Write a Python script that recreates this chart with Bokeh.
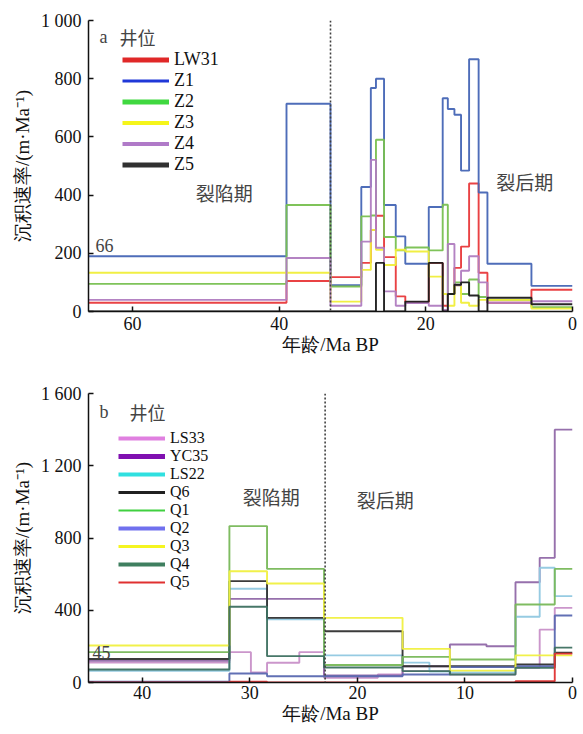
from bokeh.plotting import figure
from bokeh.models import Range1d, FixedTicker, Legend, LegendItem, Label, Span
from bokeh.layouts import column
from bokeh.embed import file_html
from bokeh.resources import INLINE

# ---------------- Panel a data (age in Ma BP, rate in m/Ma) ----------------
edges_a = [66, 39, 33, 28.8, 27.5, 26.8, 25.7, 24.1, 22.8, 19.6, 17.7, 17.0,
           16.1, 15.2, 14.1, 12.8, 11.6, 5.6, 0]
lw31 = [30, 105, 118, 167, 280, 329, 187, 52, 32, 167, 20, 60, 150, 223, 440, 133, 30, 75]
z1 = [190, 714, 90, 428, 768, 800, 366, 258, 164, 359, 733, 696, 676, 484, 867, 409, 164, 88]
z2 = [95, 366, 86, 327, 330, 590, 256, 210, 220, 210, 367, 60, 100, 60, 110, 50, 40, 15]
z3 = [133, 133, 34, 143, 280, 212, 160, 212, 206, 120, 60, 20, 90, 30, 20, 40, 40, 10]
z4 = [40, 184, 20, 240, 521, 219, 69, 20, 29, 20, 5, 232, 90, 140, 190, 100, 30, 35]
z5 = [0, 0, 0, 0, 0, 167, 0, 0, 34, 167, 0, 60, 92, 100, 55, 0, 47, 25]
wells_a = ["LW31", "Z1", "Z2", "Z3", "Z4", "Z5"]
series_a = [lw31, z1, z2, z3, z4, z5]
xticks_a = [60, 40, 20, 0]
yticks_a = [0, 200, 400, 600, 800, 1000]

# ---------------- Panel b data ----------------
edges_b = [45, 31.9, 29.9, 28.4, 25.4, 23.1, 18.1, 15.8, 13.3, 11.4, 8.0, 5.3, 3.05, 1.65, 0]
ls33 = [110, 168, 55, 109, 168, 26, 44, 63, 63, 44, 44, 81, 293, 413]
yc35 = [120, 463, 463, 463, 463, 39, 39, 90, 90, 210, 201, 555, 690, 1400]
ls22 = [65, 519, 519, 350, 350, 150, 150, 110, 60, 55, 55, 364, 635, 478]
q6 = [130, 561, 561, 358, 358, 284, 284, 90, 90, 90, 90, 100, 100, 165]
q1 = [168, 866, 866, 629, 629, 97, 97, 142, 142, 127, 127, 432, 432, 629]
q2 = [5, 50, 50, 35, 35, 35, 35, 44, 44, 85, 85, 90, 90, 371]
q3 = [205, 616, 616, 548, 548, 358, 358, 186, 186, 66, 66, 150, 150, 150]
q4 = [72, 419, 419, 146, 146, 83, 83, 63, 63, 44, 44, 81, 81, 193]
q5 = [0, 5, 5, 0, 0, 0, 0, 0, 0, 0, 0, 7, 7, 160]
wells_b = ["LS33", "YC35", "LS22", "Q6", "Q1", "Q2", "Q3", "Q4", "Q5"]
series_b = [ls33, yc35, ls22, q6, q1, q2, q3, q4, q5]
xticks_b = [40, 30, 20, 10, 0]
yticks_b = [0, 400, 800, 1200, 1600]

# ---------------- styles ----------------
FONT_NUM = "Liberation Serif"
FONT_CJK = "Noto Sans CJK SC"

line_col_a = ["#e8383a", "#4565b5", "#78c050", "#f0ee3a", "#b07cc0", "#1a1a1a"]
leg_col_a = ["#e02828", "#2038d8", "#40d840", "#f5f51a", "#b07ac8", "#303030"]
leg_w_a = [5, 3, 5, 4, 4, 5]

line_col_b = ["#c890c8", "#9068a8", "#90c8e0", "#303030", "#78b858", "#5868b0",
              "#f0f040", "#3d7060", "#e03030"]
leg_col_b = ["#e080e0", "#8010b0", "#30e0e0", "#202020", "#40d040", "#7070ee",
             "#f5f520", "#3f7f5f", "#e03030"]
leg_w_b = [4, 5, 4, 3, 2, 4, 3, 4, 2]


def step_xy(edges, vals):
    xs, ys = [], []
    for i, v in enumerate(vals):
        xs += [edges[i], edges[i + 1]]
        ys += [v, v]
    return xs, ys


def make_panel(edges, series, names, lcols, gcols, gws, xmax, ymax, xticks, yticks,
               overrides, top, frame_h, bottom, split, letter, start_lbl,
               start_lbl_y, start_off, rift_pos, post_pos, leg_loc, row_h, leg_font,
               title_pos, title_gap, x_standoff):
    left, right = 88, 7
    p = figure(width=left + 484 + right, height=top + frame_h + bottom,
               output_backend="svg", toolbar_location=None,
               x_range=Range1d(xmax, 0), y_range=Range1d(0, ymax))
    p.min_border_left = left
    p.min_border_right = right
    p.min_border_top = top
    p.min_border_bottom = bottom
    p.outline_line_color = None
    p.xgrid.visible = False
    p.ygrid.visible = False
    p.background_fill_color = "white"
    p.border_fill_color = "white"

    for s, c in zip(series, lcols):
        xs, ys = step_xy(edges, s)
        p.line(xs, ys, line_color=c, line_width=1.9, line_alpha=0.95)

    p.add_layout(Span(location=split, dimension="height", line_color="#404040",
                      line_width=1.6, line_dash="2 2"))

    items = []
    for n, s, c, w in zip(names, series, gcols, gws):
        # single-point line: invisible in the plot, used only for the legend swatch
        r = p.line([edges[0]], [s[0]], line_color=c, line_width=w)
        items.append(LegendItem(label=n, renderers=[r]))
    leg = Legend(items=items, location=leg_loc, padding=0, margin=0, spacing=0,
                 glyph_width=47, glyph_height=row_h, label_height=row_h,
                 label_standoff=5, border_line_color=None, background_fill_alpha=0,
                 label_text_font=FONT_NUM, label_text_font_size=leg_font,
                 label_text_color="#111111")
    p.add_layout(leg)

    # panel letter and legend heading
    p.add_layout(Label(x=title_pos[0], y=title_pos[1], x_units="screen", y_units="screen",
                       text=letter, text_font=FONT_NUM, text_font_size="18px",
                       text_baseline="middle", text_align="left"))
    p.add_layout(Label(x=title_pos[0] + title_gap, y=title_pos[1], x_units="screen",
                       y_units="screen", text="井位", text_font=FONT_CJK,
                       text_font_size="18px", text_baseline="middle", text_align="left"))
    p.add_layout(Label(x=xmax, y=start_lbl_y, x_offset=start_off, text=start_lbl,
                       text_font=FONT_NUM, text_font_size="18px",
                       text_baseline="middle", text_align="left"))
    p.add_layout(Label(x=rift_pos[0], y=rift_pos[1], text="裂陷期", text_font=FONT_CJK,
                       text_font_size="19px", text_align="center", text_baseline="middle"))
    p.add_layout(Label(x=post_pos[0], y=post_pos[1], text="裂后期", text_font=FONT_CJK,
                       text_font_size="19px", text_align="center", text_baseline="middle"))

    for ax in (p.xaxis[0], p.yaxis[0]):
        ax.major_tick_in = 5
        ax.major_tick_out = 0
        ax.minor_tick_line_color = None
        ax.axis_line_width = 1.5
        ax.axis_line_color = "#111111"
        ax.major_tick_line_width = 1.5
        ax.major_tick_line_color = "#111111"
        ax.major_label_text_font = FONT_NUM
        ax.major_label_text_font_size = "18px"
        ax.major_label_text_color = "#111111"
        ax.axis_label_text_font = FONT_NUM
        ax.axis_label_text_font_size = "19px"
        ax.axis_label_text_font_style = "normal"
        ax.axis_label_text_color = "#111111"
    p.xaxis.ticker = FixedTicker(ticks=xticks)
    p.yaxis.ticker = FixedTicker(ticks=yticks)
    p.yaxis.major_label_overrides = overrides
    p.xaxis.axis_label = "年龄/Ma BP"
    p.yaxis.axis_label = "沉积速率/(m·Ma⁻¹)"
    p.yaxis.major_label_standoff = 7
    p.yaxis.axis_label_standoff = 5
    p.xaxis.major_label_standoff = x_standoff
    p.xaxis.axis_label_standoff = 1
    return p


pa = make_panel(edges_a, series_a, wells_a, line_col_a, leg_col_a, leg_w_a, 66, 1000,
                xticks_a, yticks_a, {1000: "1 000"}, 20, 291, 50, 33, "a", "66", 226, 7,
                (47.5, 408), (6.5, 446), (34, 136), 21, "18px", (11, 275), 20, 5)
pb = make_panel(edges_b, series_b, wells_b, line_col_b, leg_col_b, leg_w_b, 45, 1600,
                xticks_b, yticks_b, {1200: "1 200", 1600: "1 600"}, 32, 289, 47, 23,
                "b", "45", 166, 4, (28.0, 1030), (17.4, 1013), (30, 91), 18, "16px",
                (11, 271), 30, 3)

layout = column(pa, pb, spacing=0)
open("out.html", "w").write(file_html(layout, INLINE))
